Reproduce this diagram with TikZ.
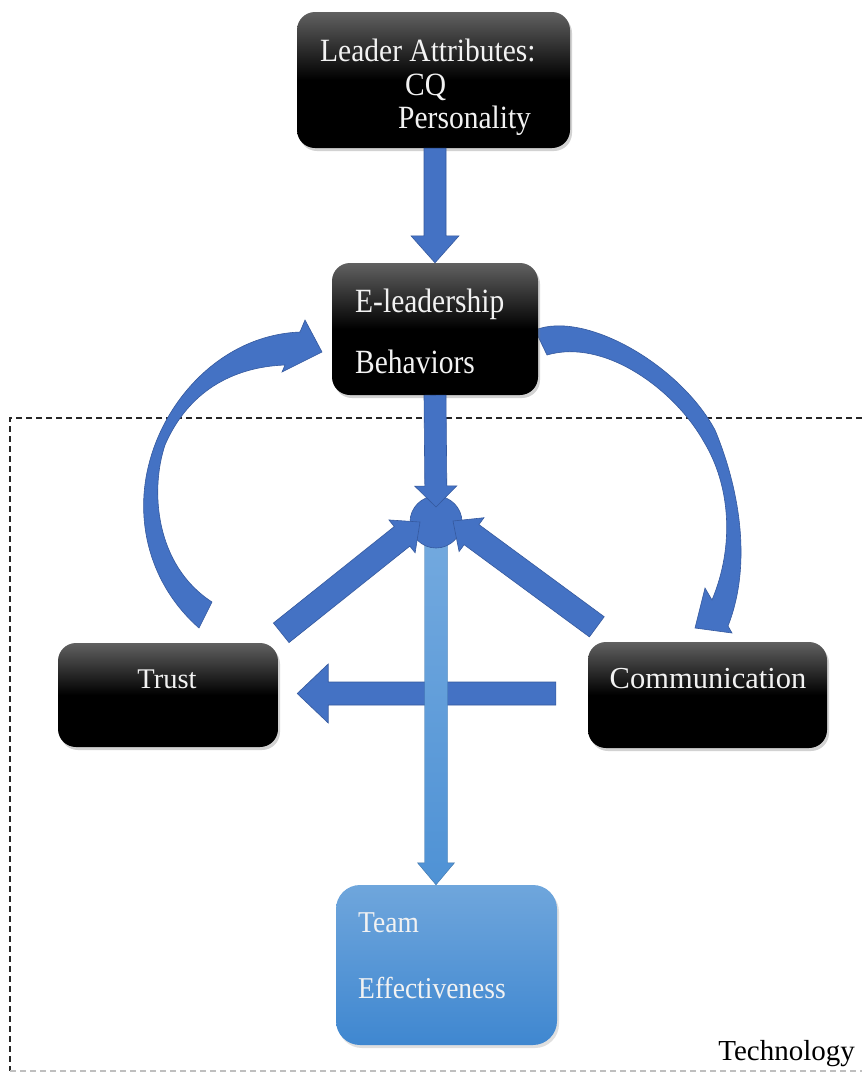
\documentclass[tikz,border=0pt]{standalone}
\usepackage{fontspec}
\setmainfont{Liberation Serif}
\usepackage{graphicx}
\usetikzlibrary{calc,shadows}
\definecolor{pblue}{HTML}{4472C4}
\definecolor{pblueline}{HTML}{35599E}
\definecolor{lblueT}{HTML}{74AADF}
\definecolor{lblueB}{HTML}{4F92D5}
\definecolor{tblueT}{HTML}{6FA6DC}
\definecolor{tblueB}{HTML}{3F87D0}
\newcommand\bxfont[1]{\fontsize{#1}{#1}\selectfont}
% block arrow: #1 style, #2 start, #3 end, #4 half shaft, #5 half head, #6 head length
\newcommand\blockarr[6]{%
  \coordinate (ba-s) at #2; \coordinate (ba-e) at #3;
  \coordinate (ba-h) at ($(ba-e)!#6!(ba-s)$);
  \path[#1] ($(ba-s)!#4!90:(ba-e)$) -- ($(ba-h)!#4!-90:(ba-s)$) -- ($(ba-h)!#5!-90:(ba-s)$)
     -- (ba-e) -- ($(ba-h)!#5!90:(ba-s)$) -- ($(ba-h)!#4!90:(ba-s)$) -- ($(ba-s)!#4!-90:(ba-e)$) -- cycle;}
\begin{document}
\begin{tikzpicture}[x=1pt,y=-1pt,
  blackbox/.style={rounded corners=18pt, top color=black!62, bottom color=black, middle color=black,
     drop shadow={opacity=0.35, shadow xshift=2pt, shadow yshift=-3pt}, inner sep=0pt},
  teambox/.style={rounded corners=24pt, top color=tblueT, bottom color=tblueB,
     drop shadow={opacity=0.25, shadow xshift=2pt, shadow yshift=-3pt}, inner sep=0pt},
  wtext/.style={text=white!95!black, inner sep=0pt},
  barrow/.style={fill=pblue, draw=pblueline, line width=0.6pt},
  larrow/.style={top color=lblueT, bottom color=lblueB, draw=lblueB!80!black, line width=0.4pt},
  curv/.style={fill=pblue, draw=pblueline, line width=0.6pt},
  frame/.style={dash pattern=on 6pt off 4pt, line width=1.2pt, black!85},
  framebot/.style={dash pattern=on 6pt off 4pt, line width=1.2pt, black!25}]
\useasboundingbox (0,0) rectangle (862,1077);
\fill[white] (0,0) rectangle (862,1077);

% technology frame
\draw[frame] (862,418) -- (10,418) -- (10,1071);
\draw[framebot] (10,1071) -- (862,1071);

% curved arrows
\path[curv] (199,628) .. controls (150,585) and (133,520) .. (150,460)
  .. controls (168,395) and (225,335) .. (300,332)
  -- (305,320) -- (322,352) -- (282,372) -- (285,365)
  .. controls (232,367) and (188,392) .. (165,445)
  .. controls (150,490) and (155,565) .. (212,602) -- cycle;
\path[curv] (535,330) .. controls (585,310) and (680,365) .. (715,430)
  .. controls (740,490) and (752,565) .. (728,626)
  -- (732,633) -- (695,628) -- (705,588) -- (712,600)
  .. controls (735,545) and (730,485) .. (704,442)
  .. controls (675,390) and (605,338) .. (547,355) -- cycle;

% boxes
\node[blackbox, minimum width=273pt, minimum height=136pt] (top) at (433.5,80) {};
\node[blackbox, minimum width=206pt, minimum height=132pt] (eb) at (435,329) {};
\node[blackbox, minimum width=220pt, minimum height=104pt] (trust) at (168,695) {};
\node[blackbox, minimum width=239pt, minimum height=106pt] (comm) at (707.5,695) {};
\node[teambox, minimum width=221pt, minimum height=160pt] (team) at (446.5,965) {};
\node[circle, minimum size=52pt, inner sep=0pt] (hub) at (436,522) {};

% texts
\node[wtext, anchor=base west] (t1) at (320,61) {\bxfont{29.5}\scalebox{1}[1.1]{Leader Attributes:}};
\node[wtext, anchor=base west] (t2) at (405,95) {\bxfont{29.5}\scalebox{1}[1.1]{CQ}};
\node[wtext, anchor=base west] (t3) at (398,128) {\bxfont{29.5}\scalebox{1}[1.1]{Personality}};
\node[wtext, anchor=base west] (t4) at (355,312) {\bxfont{29.5}\scalebox{1}[1.15]{E-leadership}};
\node[wtext, anchor=base west] (t5) at (355,373) {\bxfont{29.5}\scalebox{1}[1.15]{Behaviors}};
\node[wtext, anchor=base] (t6) at (167,688) {\bxfont{28.5}Trust};
\node[wtext, anchor=base] (t7) at (708,688) {\bxfont{30.5}Communication};
\node[wtext, anchor=base west] (t8) at (358,932) {\bxfont{27.5}\scalebox{1}[1.1]{Team}};
\node[wtext, anchor=base west] (t9) at (358,998) {\bxfont{27.5}\scalebox{1}[1.1]{Effectiveness}};
\node[anchor=base east, inner sep=0pt] (tech) at (855,1060) {\bxfont{29}Technology};

% straight arrows
\blockarr{barrow}{(top.south -| eb.north)}{(eb.north)}{11pt}{24pt}{27pt}
\blockarr{barrow}{($(comm.west)+(-32,-1.5)$)}{($(trust.east)+(19,-1.5)$)}{11.5pt}{29.5pt}{31pt}
\blockarr{larrow}{(hub.center)}{(team.north -| hub.center)}{11.5pt}{18.5pt}{22pt}
\fill[pblue, draw=pblueline, line width=0.6pt] (hub) circle (26pt);
\blockarr{barrow}{(eb.south)}{($(hub.center)+(0,-15)$)}{11pt}{21pt}{21pt}
\blockarr{barrow}{($(trust.north east)+(3,-10)$)}{($(hub.center)+(-16,0)$)}{12.5pt}{21pt}{23pt}
\blockarr{barrow}{($(comm.north west)+(9,-15)$)}{($(hub.center)+(17,-1)$)}{12.5pt}{21pt}{23pt}
\end{tikzpicture}
\end{document}
